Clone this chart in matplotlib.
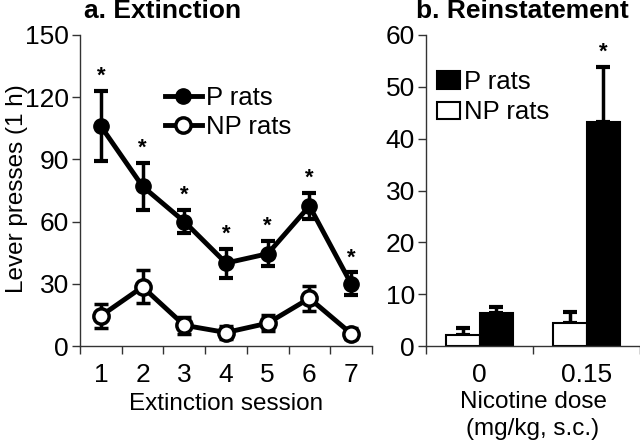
import numpy as np
import matplotlib
matplotlib.use("Agg")
import matplotlib.pyplot as plt
from matplotlib.lines import Line2D
from matplotlib.patches import Patch

plt.rcParams["font.family"] = ["Liberation Sans", "DejaVu Sans"]

# --- Panel a: extinction sessions ---
sessions = [1, 2, 3, 4, 5, 6, 7]
p_mean = [106, 77, 60, 40, 44.5, 67.5, 30]
p_sem = [17, 11.5, 5.5, 7, 6, 6.3, 5.5]
np_mean = [14.5, 28.5, 10, 6.5, 11, 23, 6]
np_sem = [5.7, 8, 4, 3, 4, 6, 2.5]
p_signif = [True] * 7

# --- Panel b: reinstatement ---
doses = ["0", "0.15"]
p_bar = [6.3, 43.3]
p_bar_err = [1.3, 10.5]
np_bar = [2.2, 4.5]
np_bar_err = [1.3, 2.0]
bar_signif = [False, True]

TICK_FS = 19
LEG_FS = 18.5
LAB_FS = 17.5

fig = plt.figure(figsize=(6.4, 4.45), dpi=100)
ax1 = fig.add_axes([80 / 640, 99 / 445, 292 / 640, 311 / 445])
ax2 = fig.add_axes([426 / 640, 99 / 445, 214 / 640, 311 / 445])

for ax in (ax1, ax2):
    ax.spines["top"].set_visible(False)
    ax.spines["right"].set_visible(False)
    for s in ("left", "bottom"):
        ax.spines[s].set_linewidth(1.0)
        ax.spines[s].set_color("#333333")
    ax.tick_params(axis="y", labelsize=TICK_FS, length=6, width=1, color="#333333", pad=2)
    ax.tick_params(axis="x", which="major", length=0, labelsize=TICK_FS, pad=12)
    ax.tick_params(axis="x", which="minor", length=6, width=1, color="#333333")

# panel a
x = np.array(sessions)
ax1.errorbar(x, p_mean, yerr=p_sem, fmt="-o", color="black", lw=3.5,
             ms=11, mfc="black", mec="black", elinewidth=2.5,
             capsize=5, capthick=3, zorder=3)
ax1.errorbar(x, np_mean, yerr=np_sem, fmt="-o", color="black", lw=3.5,
             ms=11, mfc="white", mec="black", mew=2.5, elinewidth=2.5,
             capsize=5, capthick=3, zorder=3)
for xi, m, e, s in zip(x, p_mean, p_sem, p_signif):
    if s:
        ax1.annotate("*", (xi, m + e), xytext=(0, 3), textcoords="offset points",
                     ha="center", va="bottom", fontsize=16, fontweight="bold")
ax1.set_xlim(0.5, 7.5)
ax1.set_ylim(0, 150)
ax1.set_yticks(np.arange(0, 151, 30))
ax1.set_xticks(x)
ax1.set_xticks(np.arange(0.5, 7.6, 1), minor=True)

h1 = [Line2D([], [], color="black", lw=3.5, marker="o", ms=11, mfc="black"),
      Line2D([], [], color="black", lw=3.5, marker="o", ms=11, mfc="white", mew=2.5)]
ax1.legend(h1, ["P rats", "NP rats"], loc="center left", bbox_to_anchor=(0.29, 0.75),
           frameon=False, fontsize=LEG_FS, handlelength=1.45, handletextpad=0.15,
           labelspacing=0.2, borderpad=0, borderaxespad=0)

# panel b
xb = np.arange(len(doses))
w = 0.31
ax2.bar(xb - w / 2, np_bar, w, color="white", edgecolor="black", lw=1.5, zorder=2)
ax2.bar(xb + w / 2, p_bar, w, color="black", edgecolor="black", lw=1.5, zorder=2)
ax2.errorbar(xb - w / 2, np_bar, yerr=[np.zeros(2), np_bar_err], fmt="none",
             ecolor="black", elinewidth=2.5, capsize=5, capthick=3, zorder=1)
ax2.errorbar(xb + w / 2, p_bar, yerr=[np.zeros(2), p_bar_err], fmt="none",
             ecolor="black", elinewidth=2.5, capsize=5, capthick=3, zorder=1)
for xi, m, e, s in zip(xb + w / 2, p_bar, p_bar_err, bar_signif):
    if s:
        ax2.annotate("*", (xi, m + e), xytext=(0, 3), textcoords="offset points",
                     ha="center", va="bottom", fontsize=16, fontweight="bold")
ax2.set_xlim(-0.5, 1.5)
ax2.set_ylim(0, 60)
ax2.set_yticks(np.arange(0, 61, 10))
ax2.set_xticks(xb)
ax2.set_xticklabels(doses)
ax2.set_xticks([-0.5, 0.5, 1.5], minor=True)

h2 = [Patch(facecolor="black", edgecolor="black", lw=1.5),
      Patch(facecolor="white", edgecolor="black", lw=1.5)]
ax2.legend(h2, ["P rats", "NP rats"], loc="center left", bbox_to_anchor=(0.05, 0.80),
           frameon=False, fontsize=LEG_FS, handlelength=0.9, handleheight=0.65,
           handletextpad=0.15, labelspacing=0.25, borderpad=0, borderaxespad=0)

# titles and axis labels
fig.text(163 / 640, 1 - 18 / 445, "a. Extinction", ha="center", va="baseline",
         fontsize=19, fontweight="bold")
fig.text(522 / 640, 1 - 18 / 445, "b. Reinstatement", ha="center", va="baseline",
         fontsize=19, fontweight="bold")
fig.text(17 / 640, 1 - 189 / 445, "Lever presses (1 h)", rotation=90,
         ha="center", va="center", fontsize=LAB_FS)
fig.text(226 / 640, 1 - 410 / 445, "Extinction session", ha="center",
         va="baseline", fontsize=LAB_FS)
fig.text(533 / 640, 1 - 408 / 445, "Nicotine dose", ha="center",
         va="baseline", fontsize=LAB_FS)
fig.text(533 / 640, 1 - 435 / 445, "(mg/kg, s.c.)", ha="center",
         va="baseline", fontsize=LAB_FS)

fig.savefig("out.png", dpi=100)
